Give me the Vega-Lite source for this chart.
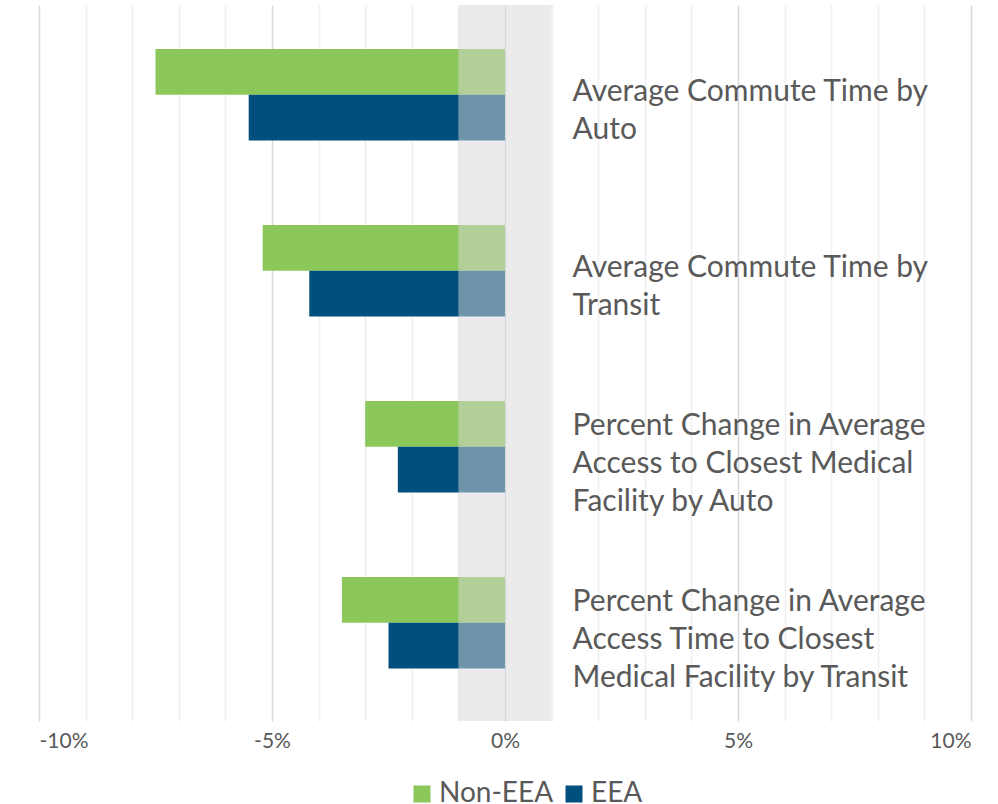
{
  "$schema": "https://vega.github.io/schema/vega-lite/v6.json",
  "width": 932,
  "height": 716,
  "autosize": {"type": "none"},
  "padding": {"left": 39, "top": 5, "right": 27, "bottom": 83},
  "background": "white",
  "config": {"view": {"stroke": null}, "font": "Lato"},
  "datasets": {
    "bars": [
      {"metric": "m1", "series": "Non-EEA", "value": -7.5},
      {"metric": "m1", "series": "EEA", "value": -5.5},
      {"metric": "m2", "series": "Non-EEA", "value": -5.2},
      {"metric": "m2", "series": "EEA", "value": -4.2},
      {"metric": "m3", "series": "Non-EEA", "value": -3.0},
      {"metric": "m3", "series": "EEA", "value": -2.3},
      {"metric": "m4", "series": "Non-EEA", "value": -3.5},
      {"metric": "m4", "series": "EEA", "value": -2.5}
    ],
    "labels": [
      {"metric": "m1", "lines": 2, "label": "Average Commute Time by\nAuto"},
      {"metric": "m2", "lines": 2, "label": "Average Commute Time by\nTransit"},
      {"metric": "m3", "lines": 3, "label": "Percent Change in Average\nAccess to Closest Medical\nFacility by Auto"},
      {"metric": "m4", "lines": 3, "label": "Percent Change in Average\nAccess Time to Closest\nMedical Facility by Transit"}
    ],
    "band": [{"lo": -1, "hi": 1}]
  },
  "encoding": {
    "y": {
      "field": "metric",
      "type": "nominal",
      "sort": ["m1", "m2", "m3", "m4"],
      "axis": null,
      "scale": {"paddingInner": 0.48, "paddingOuter": 0.274, "align": 0.456}
    }
  },
  "layer": [
    {
      "data": {"name": "bars"},
      "mark": {"type": "bar"},
      "encoding": {
        "x": {
          "field": "value",
          "type": "quantitative",
          "scale": {"domain": [-10, 10], "nice": false, "zero": false},
          "axis": {
            "values": [-10, -9, -8, -7, -6, -5, -4, -3, -2, -1, 0, 1, 2, 3, 4, 5, 6, 7, 8, 9, 10],
            "labelExpr": "datum.value % 5 === 0 ? datum.value + '%' : ''",
            "title": null,
            "domain": false,
            "ticks": false,
            "grid": true,
            "gridColor": {"condition": {"test": "datum.value % 5 === 0", "value": "#d9d9d9"}, "value": "#efefef"},
            "gridWidth": 1.5,
            "labelFontSize": 21,
            "labelColor": "#595959",
            "labelPadding": 9,
            "labelFont": "Lato"
          }
        },
        "yOffset": {"field": "series", "type": "nominal", "sort": ["Non-EEA", "EEA"], "scale": {"paddingInner": 0, "paddingOuter": 0}},
        "color": {
          "field": "series",
          "type": "nominal",
          "sort": ["Non-EEA", "EEA"],
          "scale": {"domain": ["Non-EEA", "EEA"], "range": ["#8bc75a", "#004f7c"]},
          "legend": {
            "title": null,
            "orient": "none",
            "legendX": 369,
            "legendY": 775,
            "direction": "horizontal",
            "symbolType": "square",
            "symbolSize": 289,
            "symbolStrokeWidth": 0,
            "labelFontSize": 28,
            "labelColor": "#595959",
            "labelFont": "Lato",
            "labelOffset": 3,
            "columnPadding": 6,
            "padding": 0
          }
        }
      }
    },
    {
      "data": {"name": "band"},
      "mark": {"type": "rect", "color": "#d8d8d8", "opacity": 0.51},
      "encoding": {
        "x": {"field": "lo", "type": "quantitative"},
        "x2": {"field": "hi"},
        "y": {"value": 0},
        "y2": {"value": 716}
      }
    },
    {
      "data": {"name": "labels"},
      "transform": [{"filter": "datum.lines === 2"}],
      "mark": {"type": "text", "align": "left", "baseline": "alphabetic", "fontSize": 30, "lineHeight": 38, "lineBreak": "\n", "dy": 6, "color": "#595959"},
      "encoding": {
        "x": {"datum": 1.45},
        "text": {"field": "label"}
      }
    },
    {
      "data": {"name": "labels"},
      "transform": [{"filter": "datum.lines === 3"}],
      "mark": {"type": "text", "align": "left", "baseline": "alphabetic", "fontSize": 30, "lineHeight": 38, "lineBreak": "\n", "dy": -12, "color": "#595959"},
      "encoding": {
        "x": {"datum": 1.45},
        "text": {"field": "label"}
      }
    }
  ]
}
